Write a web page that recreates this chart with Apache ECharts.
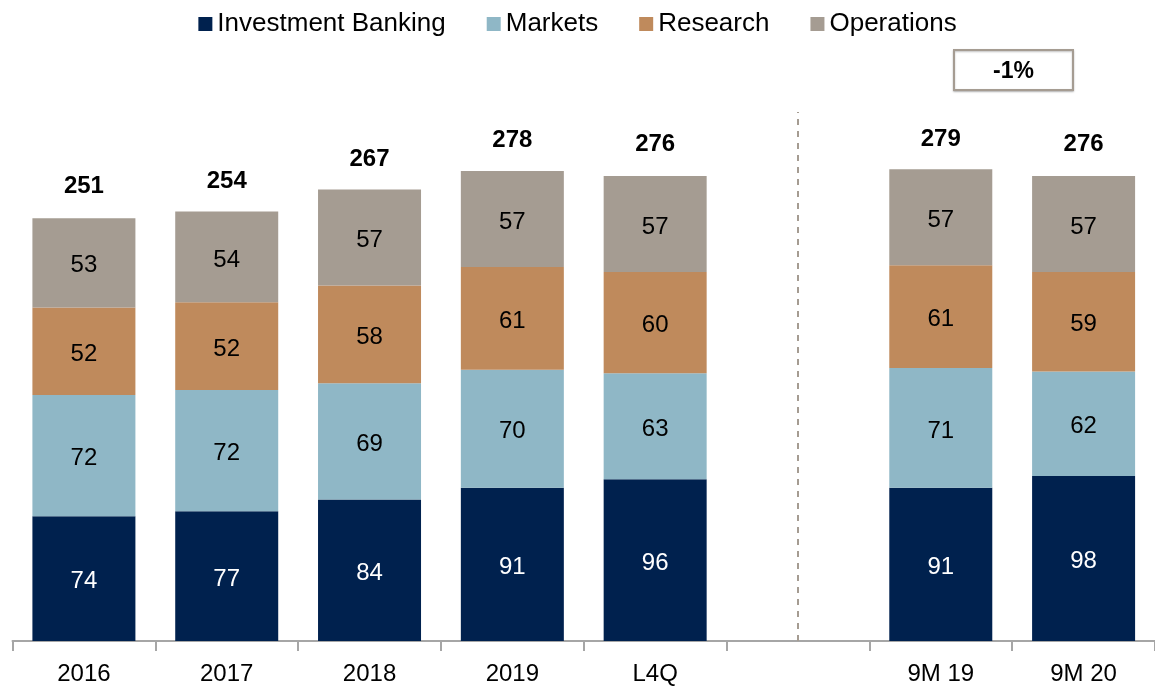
<!DOCTYPE html>
<html>
<head>
<meta charset="utf-8">
<script src="https://cdn.jsdelivr.net/npm/echarts@6/dist/echarts.min.js"></script>
<style>
html,body{margin:0;padding:0;background:#fff;}
#chart{width:1155px;height:691px;}
</style>
</head>
<body>
<div id="chart"></div>
<script>
// categories (empty slot = gap before the 9M columns)
var categories = ['2016', '2017', '2018', '2019', 'L4Q', '', '9M 19', '9M 20'];
var investmentBanking = [74, 77, 84, 91, 96, '-', 91, 98];
var markets = [72, 72, 69, 70, 63, '-', 71, 62];
var research = [52, 52, 58, 61, 60, '-', 61, 59];
var operations = [53, 54, 57, 57, 57, '-', 57, 57];
var totals = [251, 254, 267, 278, 276, '-', 279, 276];

var font = 'Liberation Sans, Arial, sans-serif';

function seg(name, data, color, txt) {
	return {
		name: name,
		type: 'bar',
		stack: 'total',
		barWidth: 103,
		data: data,
		itemStyle: { color: color },
		label: {
			show: true,
			position: 'inside',
			offset: [0, 3],
			color: txt,
			fontSize: 24,
			fontFamily: font
		}
	};
}

var series = [
	seg('Investment Banking', investmentBanking, '#00214e', '#fff'),
	seg('Markets', markets, '#8fb7c6', '#000'),
	seg('Research', research, '#bf8a5c', '#000'),
	seg('Operations', operations, '#a59c92', '#000'),
	{
		name: 'Total',
		type: 'scatter',
		symbolSize: 0,
		data: totals,
		silent: true,
		itemStyle: { opacity: 1 },
		label: {
			show: true,
			position: 'top',
			distance: 20,
			color: '#000',
			opacity: 1,
			fontSize: 24,
			fontWeight: 'bold',
			fontFamily: font
		}
	}
];

// dashed divider in the empty slot
series[0].markLine = {
	silent: true,
	symbol: 'none',
	label: { show: false },
	lineStyle: { color: '#a59c92', type: [6, 6], width: 2 },
	data: [{ xAxis: 5 }]
};

var option = {
	animation: false,
	legend: {
		top: 6,
		left: 'center',
		data: ['Investment Banking', 'Markets', 'Research', 'Operations'],
		icon: 'rect',
		itemWidth: 14,
		itemHeight: 14,
		itemGap: 41,
		textStyle: { fontSize: 26, color: '#000', fontFamily: font }
	},
	grid: { left: 12.5, width: 1144, top: 112, height: 529 },
	xAxis: {
		type: 'category',
		data: categories,
		axisLine: { lineStyle: { color: '#a6a6a6', width: 2 } },
		axisTick: { show: true, length: 10, lineStyle: { color: '#a6a6a6', width: 2 } },
		axisLabel: { fontSize: 24, color: '#000', fontFamily: font, margin: 21 }
	},
	yAxis: { type: 'value', min: 0, max: 314, show: false },
	graphic: [{
		type: 'group',
		left: 953,
		top: 49,
		children: [{
			type: 'rect',
			shape: { x: 0, y: 0, width: 119, height: 40 },
			style: { fill: '#fff', stroke: '#a59c92', lineWidth: 2, shadowBlur: 2, shadowOffsetY: 1, shadowColor: 'rgba(0,0,0,0.25)' }
		}, {
			type: 'text',
			x: 59.5,
			y: 22,
			style: { text: '-1%', fontSize: 23, fontWeight: 'bold', fill: '#000', fontFamily: font, align: 'center', verticalAlign: 'middle' }
		}]
	}],
	series: series
};

var myChart = echarts.init(document.getElementById('chart'));
myChart.setOption(option);
</script>
</body>
</html>
